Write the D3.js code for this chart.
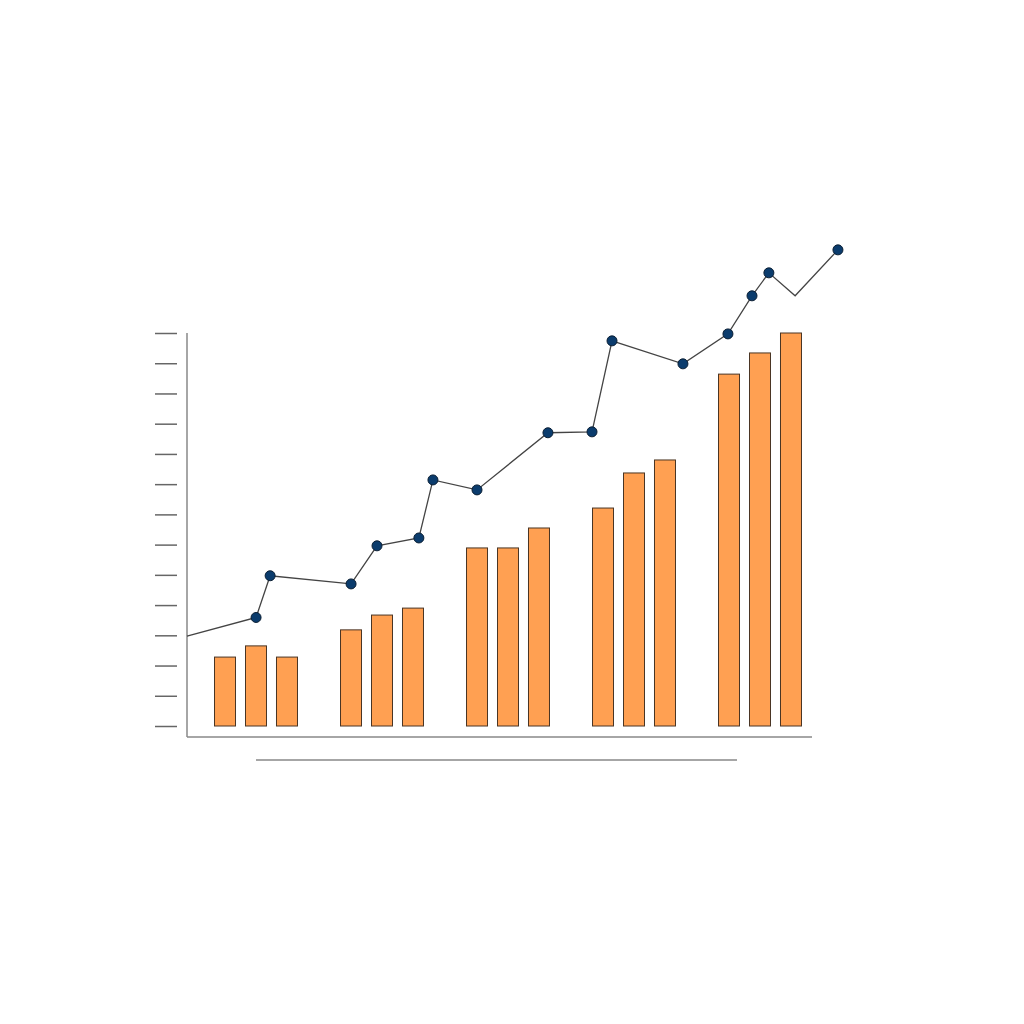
<!DOCTYPE html>
<html>
  <head>
    <meta charset="UTF-8" />
    <title>Bars and line</title>
    <script src="https://d3js.org/d3.v7.min.js"></script>
    <style>
      body { margin: 0; background: #fff; }
    </style>
  </head>
  <body>
    <div id="main"></div>
    <script type="text/javascript">
      const width = 1024;
      const height = 1024;

      // grouped bar data
      const groups = ['A', 'B', 'C', 'D', 'E'];
      const members = ['1', '2', '3'];
      const barValues = [
        [2.28, 2.65, 2.28],
        [3.18, 3.67, 3.9],
        [5.89, 5.89, 6.55],
        [7.21, 8.37, 8.8],
        [11.64, 12.34, 13.0]
      ];

      // line data (x position in line units, y value, has marker)
      const lineX = [0, 2.21, 2.66, 5.25, 6.08, 7.42, 7.87, 9.28, 11.55, 12.96, 13.6, 15.87, 17.31, 18.08, 18.62, 19.46, 20.83];
      const lineY = [2.97, 3.59, 4.97, 4.7, 5.96, 6.22, 8.14, 7.81, 9.7, 9.73, 12.74, 11.98, 12.97, 14.23, 14.99, 14.23, 15.75];
      const lineDot = [false, true, true, true, true, true, true, true, true, true, true, true, true, true, true, false, true];

      const yTicks = d3.range(0, 14);

      const svg = d3
        .select('div#main')
        .append('svg')
        .attr('width', width)
        .attr('height', height);

      const y = d3.scaleLinear().domain([0, 13]).range([726, 333]);

      const xGroup = d3.scaleBand().domain(groups).range([193, 823]).padding(0);
      const xMember = d3
        .scaleBand()
        .domain(members)
        .range([0, xGroup.bandwidth()])
        .paddingInner(0.3226)
        .paddingOuter(0.694);

      const xLine = d3.scaleLinear().domain([0, 20]).range([187, 812]);

      // y ticks (no labels)
      const yAxis = d3.axisLeft(y).tickValues(yTicks).tickSize(22).tickFormat('');
      svg
        .append('g')
        .attr('transform', 'translate(177,0)')
        .call(yAxis)
        .call(g => g.select('.domain').remove())
        .selectAll('line')
        .attr('stroke', '#666')
        .attr('stroke-width', 1.5);

      // axis lines
      svg.append('line')
        .attr('x1', 187).attr('x2', 187)
        .attr('y1', y(13)).attr('y2', 737)
        .attr('stroke', '#888').attr('stroke-width', 1.5);
      svg.append('line')
        .attr('x1', 187).attr('x2', 812)
        .attr('y1', 737).attr('y2', 737)
        .attr('stroke', '#888').attr('stroke-width', 1.5);
      svg.append('line')
        .attr('x1', 256).attr('x2', 737)
        .attr('y1', 760).attr('y2', 760)
        .attr('stroke', '#888').attr('stroke-width', 1.5);

      // bars
      const groupSel = svg
        .append('g')
        .selectAll('g')
        .data(groups)
        .join('g')
        .attr('transform', d => `translate(${xGroup(d)},0)`);

      groupSel
        .selectAll('rect')
        .data((d, i) => members.map((m, j) => ({ m, v: barValues[i][j] })))
        .join('rect')
        .attr('x', d => xMember(d.m))
        .attr('width', xMember.bandwidth())
        .attr('y', d => y(d.v))
        .attr('height', d => y(0) - y(d.v))
        .attr('fill', '#ffa052')
        .attr('stroke', '#4a3524')
        .attr('stroke-width', 1);

      // line
      const pts = lineX.map((x, i) => ({ x, y: lineY[i], dot: lineDot[i] }));
      const line = d3.line().x(d => xLine(d.x)).y(d => y(d.y));

      svg.append('path')
        .datum(pts)
        .attr('d', line)
        .attr('fill', 'none')
        .attr('stroke', '#444')
        .attr('stroke-width', 1.3);

      svg.append('g')
        .selectAll('circle')
        .data(pts.filter(d => d.dot))
        .join('circle')
        .attr('cx', d => xLine(d.x))
        .attr('cy', d => y(d.y))
        .attr('r', 5)
        .attr('fill', '#0b3c6d')
        .attr('stroke', '#0a1e33')
        .attr('stroke-width', 1);
    </script>
  </body>
</html>
